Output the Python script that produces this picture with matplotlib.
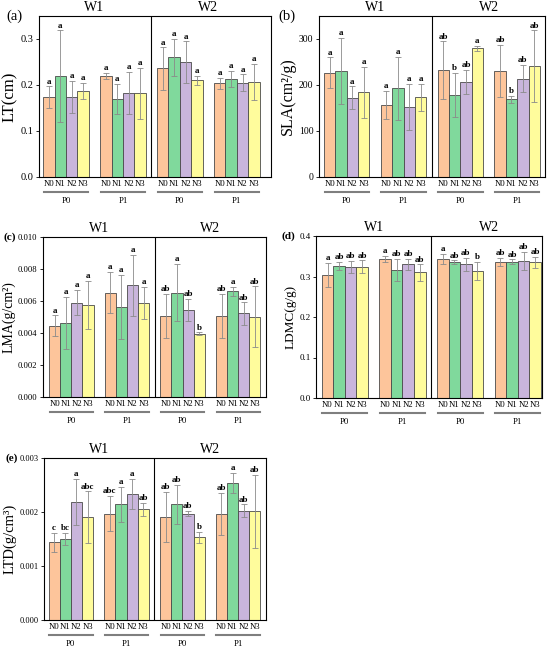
import numpy as np
import matplotlib
matplotlib.use("Agg")
import matplotlib.pyplot as plt

plt.rcParams['font.family'] = ['Liberation Serif', 'DejaVu Serif']

# bar layout: W1 (P0, P1) | W2 (P0, P1), four N levels each
n_labels = ['N0', 'N1', 'N2', 'N3'] * 4
p_labels = ['P0', 'P1', 'P0', 'P1']
w_labels = ['W1', 'W2']
colors = ['#FDC59B', '#80D99C', '#C9B5DC', '#FFFC9C'] * 4
pos = np.array([0, 1, 2, 3, 5, 6, 7, 8, 10, 11, 12, 13, 15, 16, 17, 18])
group_start = [0, 5, 10, 15]

# (a) LT
lt_mean = [0.174, 0.219, 0.174, 0.187, 0.220, 0.170, 0.182, 0.182,
           0.236, 0.260, 0.250, 0.210, 0.204, 0.213, 0.205, 0.207]
lt_sd = [0.023, 0.100, 0.035, 0.017, 0.006, 0.033, 0.046, 0.055,
         0.046, 0.040, 0.045, 0.010, 0.012, 0.018, 0.018, 0.039]
lt_sig = ['a'] * 16

# (b) SLA
sla_mean = [227, 231, 172, 184, 157, 193, 152, 173,
            232, 179, 207, 280, 231, 169, 214, 241]
sla_sd = [33, 72, 25, 55, 30, 68, 50, 30,
          63, 48, 26, 5, 57, 8, 30, 78]
sla_sig = ['a'] * 8 + ['ab', 'b', 'ab', 'a', 'ab', 'b', 'ab', 'ab']

# (c) LMA
lma_mean = [0.00446, 0.00462, 0.00590, 0.00576, 0.00653, 0.00562, 0.00698, 0.00587,
            0.00506, 0.00653, 0.00545, 0.00396, 0.00506, 0.00660, 0.00522, 0.00502]
lma_sd = [0.00065, 0.00165, 0.00080, 0.00150, 0.00130, 0.00200, 0.00190, 0.00100,
          0.00140, 0.00180, 0.00070, 0.00008, 0.00140, 0.00030, 0.00070, 0.00190]
lma_sig = ['a'] * 8 + ['ab', 'a', 'ab', 'b', 'ab', 'a', 'ab', 'ab']

# (d) LDMC
ldmc_mean = [0.304, 0.326, 0.324, 0.324, 0.344, 0.317, 0.330, 0.310,
             0.344, 0.336, 0.330, 0.314, 0.336, 0.336, 0.339, 0.335]
ldmc_sd = [0.030, 0.010, 0.015, 0.016, 0.007, 0.027, 0.014, 0.020,
           0.012, 0.004, 0.016, 0.022, 0.010, 0.006, 0.022, 0.014]
ldmc_sig = ['a', 'ab', 'ab', 'ab', 'a', 'ab', 'ab', 'ab',
            'a', 'ab', 'ab', 'b', 'ab', 'ab', 'ab', 'ab']

# (e) LTD
ltd_mean = [0.00144, 0.00150, 0.00219, 0.00190, 0.00197, 0.00214, 0.00234, 0.00205,
            0.00191, 0.00214, 0.00197, 0.00153, 0.00197, 0.00254, 0.00202, 0.00201]
ltd_sd = [0.00018, 0.00012, 0.00043, 0.00048, 0.00033, 0.00033, 0.00028, 0.00012,
          0.00046, 0.00036, 0.00005, 0.00010, 0.00039, 0.00018, 0.00012, 0.00068]
ltd_sig = ['c', 'bc', 'a', 'abc', 'abc', 'a', 'a', 'ab',
           'ab', 'ab', 'ab', 'b', 'ab', 'a', 'ab', 'ab']

W, H = 550, 654
fig = plt.figure(figsize=(5.5, 6.54), dpi=100)

# (tag, ylabel, mean, sd, sig, axes box px [l, t, r, b], ytop, yticks, fmt, xlim,
#  tick size, label size, tag size, tag x px, tag weight)
panels = [
    ('(a)', 'LT(cm)', lt_mean, lt_sd, lt_sig, [39, 16, 271, 177], 0.35,
     [0, 0.1, 0.2, 0.3], '{:.1f}', (-0.87, 19.5), 7.5, 12, 10.5, 6, 'normal'),
    ('(b)', 'SLA(cm²/g)', sla_mean, sla_sd, sla_sig, [319, 16, 545, 177], 350,
     [0, 100, 200, 300], '{:.0f}', (-0.94, 18.95), 7, 11.5, 10.5, 278, 'normal'),
    ('(c)', 'LMA(g/cm²)', lma_mean, lma_sd, lma_sig, [43, 237, 266, 397], 0.010,
     [0, 0.002, 0.004, 0.006, 0.008, 0.010], '{:.3f}', (-1.05, 19.0), 6.2, 10, 8, 4, 'bold'),
    ('(d)', 'LDMC(g/g)', ldmc_mean, ldmc_sd, ldmc_sig, [316, 236, 542, 398], 0.4,
     [0, 0.1, 0.2, 0.3, 0.4], '{:.1f}', (-1.0, 18.6), 6.5, 9.5, 8, 281, 'bold'),
    ('(e)', 'LTD(g/cm³)', ltd_mean, ltd_sd, ltd_sig, [44, 458, 266, 620], 0.003,
     [0, 0.001, 0.002, 0.003], '{:.3f}', (-0.91, 19.0), 6.0, 10.5, 8, 5, 'bold'),
]

for (tag, ylab, mean, sd, sig, box, ytop, yt, fmt, xl, tsize, lsize, tagsize, tagx, tagw) in panels:
    l, t, r, b = box
    ax = fig.add_axes([l / W, 1 - b / H, (r - l) / W, (b - t) / H])
    ax.bar(pos, mean, width=1.0, color=colors, edgecolor='#4a4a4a', linewidth=0.6, zorder=2)
    ax.errorbar(pos, mean, yerr=sd, fmt='none', ecolor='#8a8a8a', elinewidth=0.6,
                capsize=2, capthick=0.6, zorder=3)
    for x, m, s, lab in zip(pos, mean, sd, sig):
        ax.annotate(lab, (x, m + s), xytext=(0, 0.5), textcoords='offset points',
                    ha='center', va='bottom', fontsize=6.5, fontweight='bold')
    ax.axvline(9, color='black', linewidth=0.8, zorder=4)
    ax.set_xlim(*xl)
    ax.set_ylim(0, ytop)
    ax.set_yticks(yt)
    ax.set_yticklabels([fmt.format(v) for v in yt])
    ax.set_xticks(pos)
    ax.set_xticklabels(n_labels)
    ax.tick_params(axis='x', length=0, pad=2, labelsize=6.3)
    ax.tick_params(axis='y', direction='out', length=2.5, width=0.6, labelsize=tsize, pad=1.5)
    for sp in ax.spines.values():
        sp.set_linewidth(0.8)
    ax.set_ylabel(ylab, fontsize=lsize, labelpad=2)

    # W1 / W2 headers
    ax.text(4.0, 1.01, w_labels[0], transform=ax.get_xaxis_transform(),
            ha='center', va='bottom', fontsize=10)
    ax.text(14.0, 1.01, w_labels[1], transform=ax.get_xaxis_transform(),
            ha='center', va='bottom', fontsize=10)

    # P0 / P1 group lines and labels
    hpx = b - t
    for g, pl in zip(group_start, p_labels):
        ax.plot([g - 0.45, g + 3.45], [-15 / hpx, -15 / hpx], color='#7f7f7f',
                linewidth=1.5, transform=ax.get_xaxis_transform(), clip_on=False)
        ax.text(g + 1.5, -24 / hpx, pl, transform=ax.get_xaxis_transform(),
                ha='center', va='center', fontsize=6.3)

    # panel tag
    fig.text(tagx / W, 1 - t / H, tag, ha='left', va='center',
             fontsize=tagsize, fontweight=tagw)

fig.savefig('out.png', dpi=100)
